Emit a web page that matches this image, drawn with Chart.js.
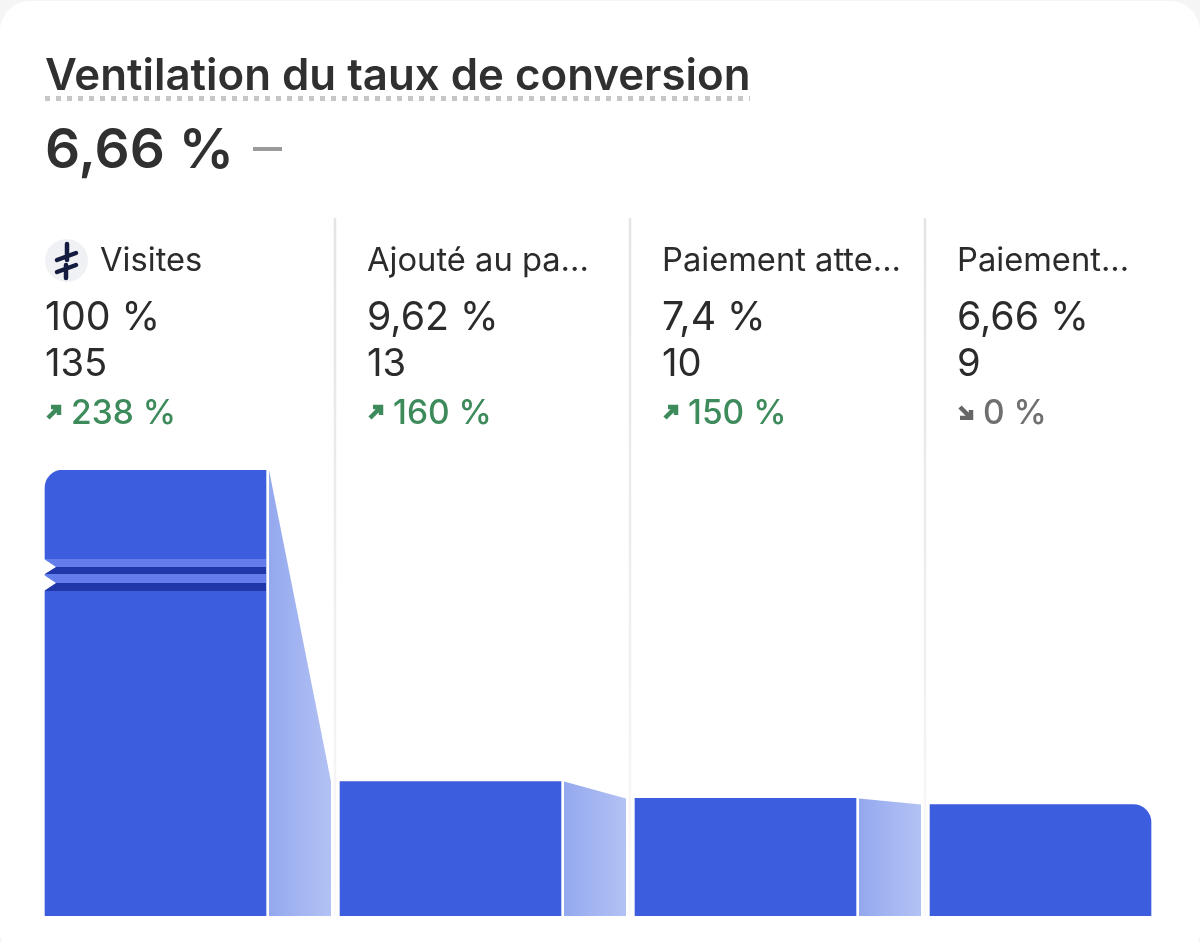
<!DOCTYPE html>
<html lang="fr"><head><meta charset="utf-8">
<script src="https://cdn.jsdelivr.net/npm/chart.js@4"></script>
<style>
html,body{margin:0;padding:0;width:1200px;height:942px;overflow:hidden;background:#fff;font-family:Inter,sans-serif}
#stage{position:relative;width:1200px;height:942px;background:#f5f5f6;overflow:hidden}
#card{position:absolute;left:0;top:1px;width:1200px;height:960px;background:#fff;border-radius:30px}
canvas#c{position:absolute;left:0;top:0}
.t{position:absolute;white-space:nowrap;line-height:1}
#title{left:45px;top:53px;font-size:43.8px;font-weight:600;color:#303030;padding-bottom:4px;background-image:linear-gradient(to right,#c6c6c6 50%,transparent 50%);background-size:11px 5px;background-repeat:repeat-x;background-position:0 100%}
#big{left:45px;top:121px;font-size:55px;font-weight:600;color:#303030}
#dash{left:253px;top:147px;width:29px;height:4px;background:#9a9a9a;position:absolute}
.lab{font-size:32.7px;color:#2b2b2b;font-weight:400}
.pct{font-size:39.3px;color:#2b2b2b;font-weight:400}
.cnt{font-size:38.2px;color:#2b2b2b;font-weight:400}
.chg{font-size:33.5px;font-weight:500}
.up{color:#3d8a5b}.flat{color:#6f6f6f}
#icon{position:absolute;left:45px;top:239px;width:43px;height:43px}
.arr{position:absolute;width:16px;height:16px}
</style></head><body>
<div id="stage"><div id="card"></div>
<canvas id="c" width="1200" height="942"></canvas>
<div id="title" class="t">Ventilation du taux de conversion</div>
<div id="big" class="t">6,66 %</div><div id="dash"></div>
<svg id="icon" viewBox="0 0 43 43"><circle cx="21.5" cy="21.5" r="21.5" fill="#f0f1f4"/><path d="M22 5V21M21 26V39M12 21L31 14M12 33L31 26" stroke="#141d3f" stroke-width="4.5" stroke-linecap="round" fill="none"/></svg>
<div id="cols"></div>
</div>
<script>
const categories=["Visites","Ajouté au pa...","Paiement atte...","Paiement..."];
const rates=[100,9.62,7.4,6.66];
const rateLabels=["100 %","9,62 %","7,4 %","6,66 %"];
const counts=[135,13,10,9];
const changes=["238 %","160 %","150 %","0 %"];
const changeDirs=["up","up","up","flat"];

const BLUE="#3c5dde";
class FunnelScale extends Chart.LinearScale{
  getPixelForValue(v){
    if(v===null||v===undefined)return NaN;
    const d=Math.max(0,(v-this.min)/(this.max-this.min));
    return this.getPixelForDecimal(Math.pow(d,0.512));
  }
}
FunnelScale.id="funnel";FunnelScale.defaults=Chart.LinearScale.defaults;
Chart.register(FunnelScale);

const funnelDecor={id:"funnelDecor",
  beforeDatasetsDraw(ch){
    const g=ch.ctx,x=ch.scales.x,y=ch.scales.y,half=110.5;
    g.save();
    const sep=g.createLinearGradient(0,218,0,916);
    sep.addColorStop(0,"#e4e4e6");sep.addColorStop(0.45,"#ececee");sep.addColorStop(0.85,"#f7f5f5");sep.addColorStop(1,"#fbfafa");
    g.strokeStyle=sep;g.lineWidth=2.5;
    for(let i=1;i<rates.length;i++){
      const xp=x.getPixelForValue(i)-half-5;
      g.beginPath();g.moveTo(xp,218);g.lineTo(xp,y.getPixelForValue(0));g.stroke();
    }
    for(let i=0;i<rates.length-1;i++){
      const a=x.getPixelForValue(i)+half+3,b=x.getPixelForValue(i+1)-half-9;
      const gr=g.createLinearGradient(a,0,b,0);
      gr.addColorStop(0,"#94a8ee");gr.addColorStop(1,"#b3c2f4");
      g.fillStyle=gr;g.beginPath();
      g.moveTo(a,y.getPixelForValue(rates[i]));
      g.lineTo(b,y.getPixelForValue(rates[i+1]));
      g.lineTo(b,y.getPixelForValue(0));
      g.lineTo(a,y.getPixelForValue(0));
      g.closePath();g.fill();
    }
    g.restore();
  },
  afterDatasetsDraw(ch){
    const g=ch.ctx,x=ch.scales.x,L=x.getPixelForValue(0)-110.5,R=x.getPixelForValue(0)+110.5;
    g.save();
    const bands=[[559,567,"#637eea"],[567,574,"#1f37a8"],[574,583,"#637eea"],[583,591,"#1f37a8"]];
    bands.forEach(b=>{g.fillStyle=b[2];g.fillRect(L,b[0],R-L,b[1]-b[0]);});
    g.fillStyle="#fff";
    [[559,567,574.5],[575,583,591]].forEach(t=>{g.beginPath();g.moveTo(L-1,t[0]);g.lineTo(L+11,t[1]);g.lineTo(L-1,t[2]);g.closePath();g.fill();});
    g.restore();
  }
};

new Chart(document.getElementById("c"),{
  type:"bar",
  data:{labels:categories,datasets:[{data:rates,backgroundColor:BLUE,borderWidth:0,barThickness:221,
    borderRadius:c=>({topLeft:c.dataIndex===0?18:0,topRight:c.dataIndex===rates.length-1?18:0,bottomLeft:0,bottomRight:0}),borderSkipped:false}]},
  plugins:[funnelDecor],
  options:{responsive:false,animation:false,devicePixelRatio:1,
    layout:{padding:{left:8,right:12,top:470,bottom:26}},
    plugins:{legend:{display:false},tooltip:{enabled:false}},
    scales:{x:{display:false,offset:true},y:{type:"funnel",display:false,min:0,max:100}}}
});

const colX=[45,367,662,957];
const cols=document.getElementById("cols");
function add(cls,txt,l,t){const d=document.createElement("div");d.className="t "+cls;d.textContent=txt;d.style.left=l+"px";d.style.top=t+"px";cols.appendChild(d);return d;}
categories.forEach((n,i)=>{
  add("lab",n,i===0?100:colX[i],243);
  add("pct",rateLabels[i],colX[i],296);
  add("cnt",String(counts[i]),colX[i],343);
  const dir=changeDirs[i];
  add("chg "+dir,changes[i],colX[i]+26,396);
  const ns="http://www.w3.org/2000/svg",s=document.createElementNS(ns,"svg");
  s.setAttribute("class","arr");s.setAttribute("viewBox","0 0 16 16");
  s.style.left=(colX[i]+1)+"px";s.style.top="404px";
  const p=document.createElementNS(ns,"path");
  p.setAttribute("d",dir==="up"?"M2 14L13 3M5 3H13V11":"M2 3L13 14M13 6V14H2");
  p.setAttribute("stroke",dir==="up"?"#3d8a5b":"#666");p.setAttribute("stroke-width","4.5");p.setAttribute("fill","none");
  s.appendChild(p);cols.appendChild(s);
});
</script></body></html>
